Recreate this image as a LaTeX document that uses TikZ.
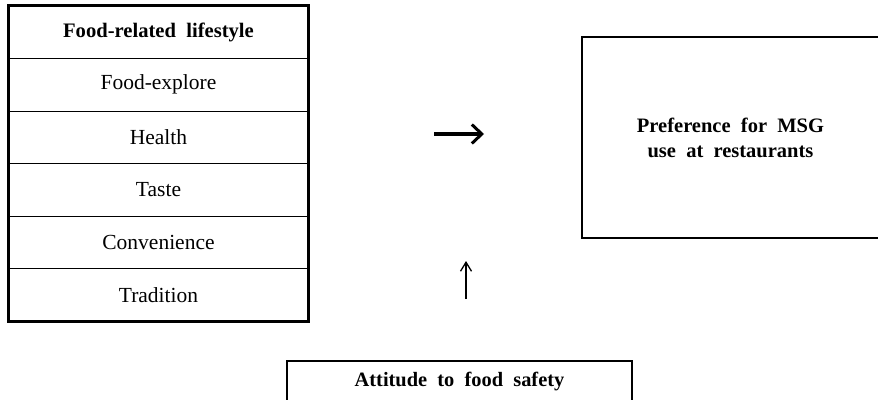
\documentclass[tikz,border=0pt]{standalone}
\usepackage{fontspec}
\setmainfont{Liberation Serif}
\usetikzlibrary{arrows.meta}
\begin{document}
\begin{tikzpicture}[x=1pt,y=-1pt,
  row/.style={draw=black,line width=0.9pt,minimum width=299pt,minimum height=52.5pt,inner sep=0pt,
    font=\fontsize{21.5}{24}\selectfont},
  hdr/.style={row,font=\fontsize{20.6}{24}\selectfont\bfseries},
  outerbox/.style={draw=black,line width=2.6pt},
  bigbox/.style={draw=black,line width=2.6pt,inner sep=0pt,align=center,
    font=\fontsize{20.5}{25}\selectfont\bfseries},
  thickarrow/.style={line width=3.2pt,-{Straight Barb[length=10pt,width=19pt,line width=3pt]}},
  thinarrow/.style={line width=1.3pt,-{Straight Barb[length=9pt,width=11pt,line width=1.3pt]}}
]
\useasboundingbox (0,0) rectangle (878,399);
\clip (0,0) rectangle (878,399);
\fill[white] (0,0) rectangle (878,399);

% left table
\node[hdr] (r0) at (158.5,32.2) {Food-related\ \ lifestyle};
\node[row] (r1) at (158.5,84.7) {Food-explore};
\node[row] (r2) at (158.5,137.2) {Health};
\node[row] (r3) at (158.5,189.7) {Taste};
\node[row] (r4) at (158.5,242.2) {Convenience};
\node[row] (r5) at (158.5,294.7) {Tradition};
\draw[outerbox] (r0.north west) rectangle (r5.south east);

% right box
\node[bigbox,minimum width=297pt,minimum height=201pt] (pref) at (730.5,137.5)
  {Preference\ \ for\ \ MSG\\use\ \ at\ \ restaurants};

% bottom box
\node[bigbox,minimum width=345pt,minimum height=44pt] (att) at (459.5,383)
  {};
\node[font=\fontsize{20.4}{24}\selectfont\bfseries,inner sep=0pt] (attl) at (459.5,382)
  {Attitude\ \ to\ \ food\ \ safety};

% arrows
\coordinate (ha1) at (434,134);
\coordinate (ha2) at (484,134);
\draw[thickarrow] (ha1) -- (ha2);
\coordinate (va1) at (466,299);
\coordinate (va2) at (466,261);
\draw[thinarrow] (va1) -- (va2);
\end{tikzpicture}
\end{document}
